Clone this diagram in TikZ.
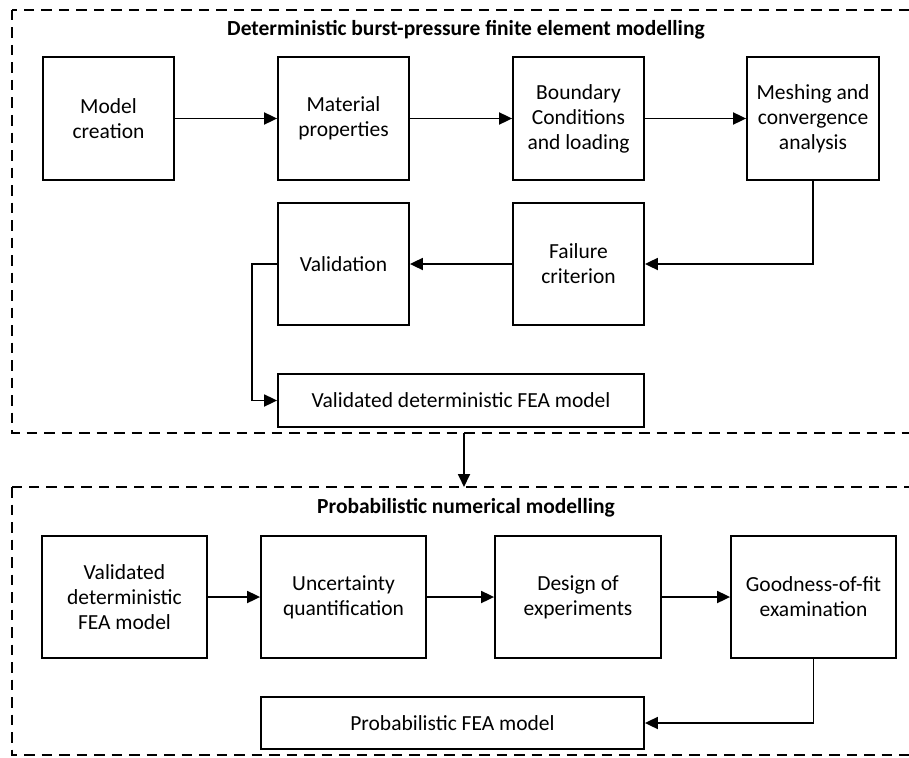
\documentclass[tikz,border=0pt]{standalone}
\usepackage{fontspec}
\setmainfont{Carlito}
\usetikzlibrary{arrows.meta}
\tikzset{
  blk/.style={draw, line width=1.8pt, rectangle, align=center, inner sep=2pt,
    font=\fontsize{21.5}{25}\selectfont},
  arr/.style={line width=1.8pt, -{Triangle[length=13pt,width=12pt]}},
  section/.style={draw, line width=1.6pt, dash pattern=on 10.5pt off 7pt},
  ttl/.style={font=\bfseries\fontsize{21.5}{25}\selectfont, inner sep=0pt}
}
\begin{document}
\begin{tikzpicture}[x=1pt,y=-1pt]
\useasboundingbox (0,0) rectangle (909,757);
\clip (0,0) rectangle (909,757);
% sections
\draw[section] (12,10) rectangle (930,433);
\draw[section] (12,487) rectangle (930,755);
\node[ttl] (t1) at (466,30) {Deterministic burst-pressure finite element modelling};
\node[ttl] (t2) at (466,508) {Probabilistic numerical modelling};
% row 1
\node[blk, minimum width=131pt, minimum height=123pt] (mc) at (108.5,118.5) {Model\\creation};
\node[blk, minimum width=131pt, minimum height=123pt] (mp) at (343.5,118.5) {Material\\properties};
\node[blk, minimum width=131pt, minimum height=123pt] (bc) at (578.5,118.5) {Boundary\\Conditions\\and loading};
\node[blk, minimum width=132pt, minimum height=123pt] (mh) at (813,118.5) {Meshing and\\convergence\\analysis};
% row 2
\node[blk, minimum width=131pt, minimum height=122pt] (va) at (343.5,264) {Validation};
\node[blk, minimum width=131pt, minimum height=122pt] (fc) at (578.5,264) {Failure\\criterion};
\node[blk, minimum width=366pt, minimum height=53pt] (vd) at (461,400.5) {Validated deterministic FEA model};
% row 3
\node[blk, minimum width=165pt, minimum height=122pt] (v2) at (124.5,597) {Validated\\deterministic\\FEA model};
\node[blk, minimum width=165pt, minimum height=122pt] (uq) at (343.5,597) {Uncertainty\\quantification};
\node[blk, minimum width=166pt, minimum height=122pt] (de) at (578,597) {Design of\\experiments};
\node[blk, minimum width=165pt, minimum height=122pt] (gf) at (813.5,597) {Goodness-of-fit\\examination};
\node[blk, minimum width=383pt, minimum height=52pt] (pf) at (452.5,723) {Probabilistic FEA model};
% connectors
\draw[arr] (mc.east) -- (mp.west);
\draw[arr] (mp.east) -- (bc.west);
\draw[arr] (bc.east) -- (mh.west);
\draw[arr] (mh.south) |- (fc.east);
\draw[arr] (fc.west) -- (va.east);
\draw[arr] (va.west) -- ++(-25,0) |- (vd.west);
\coordinate (s1) at (464,433);
\coordinate (s2) at (464,487);
\draw[arr] (s1) -- (s2);
\draw[arr] (v2.east) -- (uq.west);
\draw[arr] (uq.east) -- (de.west);
\draw[arr] (de.east) -- (gf.west);
\draw[arr] (gf.south) |- (pf.east);
\end{tikzpicture}
\end{document}
